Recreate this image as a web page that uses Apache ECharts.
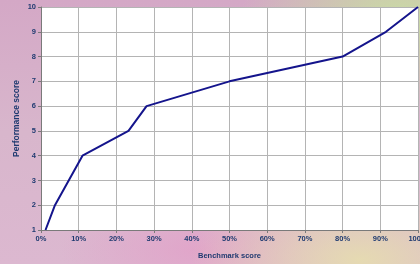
<!DOCTYPE html>
<html>
<head>
<meta charset="utf-8">
<script src="https://cdn.jsdelivr.net/npm/echarts@6/dist/echarts.min.js"></script>
<style>
    html, body { margin: 0; padding: 0; }
    body {
        width: 420px; height: 264px; overflow: hidden;
        background:
            radial-gradient(ellipse 160px 90px at 400px 20px, rgba(200, 224, 160, 0.95), rgba(200, 224, 160, 0) 100%),
            radial-gradient(ellipse 170px 80px at 360px 260px, rgba(230, 220, 176, 0.95), rgba(230, 220, 176, 0) 100%),
            radial-gradient(ellipse 140px 60px at 200px 250px, rgba(226, 160, 200, 0.8), rgba(226, 160, 200, 0) 100%),
            linear-gradient(180deg, #d4a8c6 0%, #d8b6cc 50%, #dcb8d0 100%);
    }
    #chart { width: 420px; height: 264px; }
</style>
</head>
<body>
<div id="chart"></div>
<script>
// values
let benchmarkPct = [1.2, 3.7, 11, 23.2, 28, 50, 80, 91.5, 100]
let perfScore = [1, 2, 4, 5, 6, 7, 8, 9, 10]

let points = benchmarkPct.map((x, i) => [x, perfScore[i]])

let textColor = '#1f3a70'
let labelFont = { color: textColor, fontSize: 7.5, fontWeight: 'bold', fontFamily: 'Liberation Sans, Arial' }

let myChart = echarts.init(document.getElementById('chart'))
let option = {
    backgroundColor: 'transparent',
    animation: false,
    grid: {
        left: 41, right: 2, top: 7, bottom: 34,
        containLabel: false, outerBoundsMode: 'none',
        backgroundColor: '#fff', show: true, borderWidth: 0
    },
    xAxis: {
        type: 'value',
        min: 0,
        max: 100,
        interval: 10,
        name: 'Benchmark score',
        nameLocation: 'middle',
        nameGap: 22,
        nameMoveOverlap: false,
        nameTextStyle: labelFont,
        axisLine: { show: true, lineStyle: { color: '#7a7a7a', width: 1 } },
        axisTick: { show: true, length: 3, lineStyle: { color: '#7a7a7a' } },
        axisLabel: Object.assign({ formatter: '{value}%', margin: 5 }, labelFont),
        splitLine: { show: true, lineStyle: { color: '#b4b4b4', width: 1 } }
    },
    yAxis: {
        type: 'value',
        min: 1,
        max: 10,
        interval: 1,
        name: 'Performance score',
        nameLocation: 'middle',
        nameGap: 20,
        nameMoveOverlap: false,
        nameTextStyle: Object.assign({}, labelFont, { fontSize: 8.5 }),
        axisLine: { show: true, lineStyle: { color: '#7a7a7a', width: 1 } },
        axisTick: { show: true, length: 3, lineStyle: { color: '#7a7a7a' } },
        axisLabel: Object.assign({ margin: 5 }, labelFont),
        splitLine: { show: true, lineStyle: { color: '#b4b4b4', width: 1 } }
    },
    series: [
        {
            type: 'line',
            data: points,
            showSymbol: false,
            lineStyle: { color: '#14148c', width: 2 }
        }
    ]
}
myChart.setOption(option)
</script>
</body>
</html>
